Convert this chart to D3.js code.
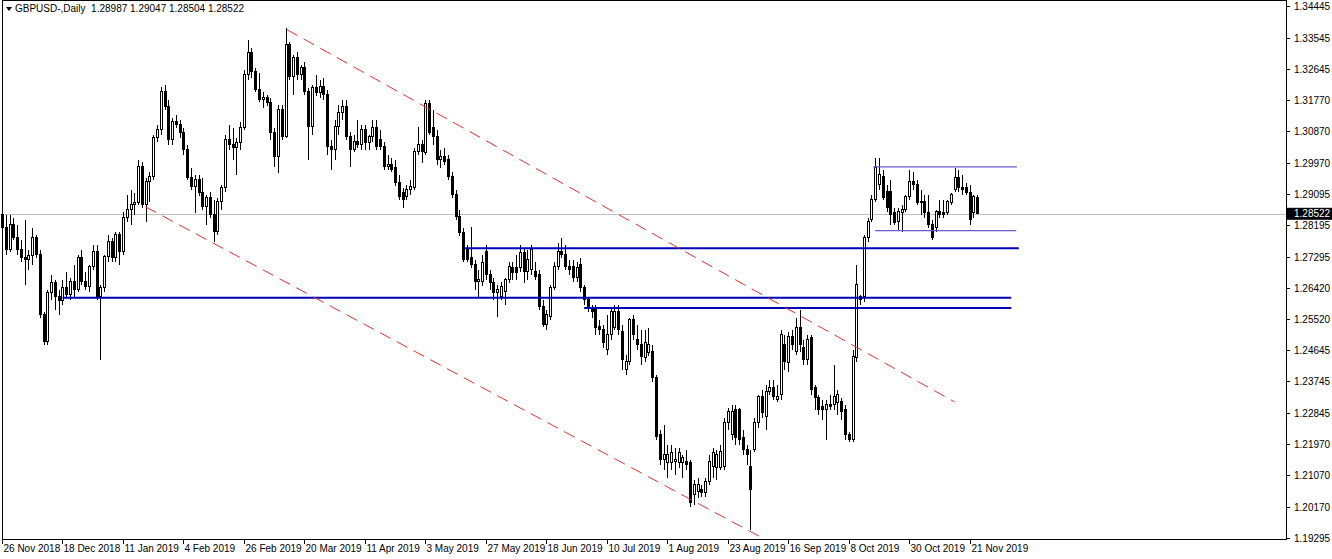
<!DOCTYPE html>
<html><head><meta charset="utf-8">
<script src="https://cdnjs.cloudflare.com/ajax/libs/d3/7.8.5/d3.min.js"></script>
<style>html,body{margin:0;padding:0;background:#fff;overflow:hidden}</style>
</head><body>
<svg id="c" width="1332" height="559"></svg>
<script>
// Daily candles [open, high, low, close], first bar = 26 Nov 2018
const candles = [
[1.2849,1.2878,1.2792,1.2812],[1.2812,1.2849,1.2735,1.2750],[1.2750,1.2849,1.2744,1.2821],[1.2821,1.2841,1.2778,1.2784],
[1.2784,1.2821,1.2735,1.2750],[1.2750,1.2778,1.2715,1.2727],[1.2727,1.2835,1.2650,1.2721],[1.2721,1.2750,1.2693,1.2732],
[1.2732,1.2812,1.2707,1.2784],[1.2784,1.2792,1.2727,1.2735],[1.2735,1.2750,1.2556,1.2564],[1.2564,1.2573,1.2479,1.2487],
[1.2487,1.2636,1.2479,1.2627],[1.2627,1.2678,1.2607,1.2655],[1.2655,1.2664,1.2579,1.2616],[1.2616,1.2636,1.2564,1.2604],
[1.2604,1.2664,1.2593,1.2641],[1.2641,1.2687,1.2613,1.2621],[1.2621,1.2670,1.2607,1.2658],[1.2658,1.2707,1.2613,1.2636],
[1.2636,1.2735,1.2630,1.2727],[1.2727,1.2750,1.2650,1.2658],[1.2658,1.2687,1.2636,1.2644],[1.2644,1.2707,1.2630,1.2701],
[1.2701,1.2764,1.2693,1.2744],[1.2744,1.2764,1.2607,1.2616],[1.2616,1.2650,1.2436,1.2641],[1.2641,1.2735,1.2630,1.2730],
[1.2730,1.2792,1.2715,1.2772],[1.2772,1.2784,1.2715,1.2727],[1.2727,1.2801,1.2715,1.2792],[1.2792,1.2801,1.2707,1.2744],
[1.2744,1.2858,1.2735,1.2841],[1.2841,1.2906,1.2829,1.2864],
[1.2864,1.2921,1.2821,1.2878],[1.2878,1.2912,1.2849,1.2884],[1.2884,1.3006,1.2878,1.2986],[1.2986,1.3000,1.2869,1.2878],
[1.2878,1.2955,1.2829,1.2943],[1.2943,1.2972,1.2886,1.2958],[1.2958,1.3077,1.2949,1.3069],[1.3069,1.3106,1.3057,1.3092],
[1.3092,1.3214,1.3077,1.3200],[1.3200,1.3220,1.3149,1.3157],[1.3157,1.3177,1.3049,1.3063],[1.3063,1.3126,1.3049,1.3114],
[1.3114,1.3134,1.3097,1.3106],[1.3106,1.3120,1.3069,1.3083],[1.3083,1.3097,1.3020,1.3035],[1.3035,1.3049,1.2949,1.2955],
[1.2955,1.2983,1.2921,1.2929],[1.2929,1.2963,1.2855,1.2949],[1.2949,1.2963,1.2903,1.2912],[1.2912,1.2955,1.2864,1.2872],
[1.2872,1.2906,1.2821,1.2898],[1.2898,1.2915,1.2841,1.2849],[1.2849,1.2892,1.2772,1.2801],[1.2801,1.2898,1.2792,1.2886],
[1.2886,1.2935,1.2864,1.2926],[1.2926,1.3077,1.2915,1.3063],[1.3063,1.3106,1.3035,1.3049],[1.3049,1.3097,1.3006,1.3040],
[1.3040,1.3069,1.2963,1.3054],[1.3054,1.3114,1.3035,1.3097],[1.3097,1.3263,1.3092,1.3248],[1.3248,1.3348,1.3234,1.3311],
[1.3311,1.3325,1.3240,1.3257],
[1.3257,1.3268,1.3200,1.3206],[1.3206,1.3254,1.3171,1.3177],[1.3177,1.3200,1.3154,1.3183],[1.3183,1.3191,1.3160,1.3169],
[1.3169,1.3183,1.3063,1.3083],[1.3083,1.3097,1.2986,1.3015],[1.3015,1.3163,1.2969,1.3149],[1.3149,1.3163,1.3063,1.3072],
[1.3072,1.3382,1.3069,1.3334],[1.3334,1.3342,1.3234,1.3243],[1.3243,1.3305,1.3191,1.3297],[1.3297,1.3314,1.3234,1.3248],
[1.3248,1.3277,1.3234,1.3268],[1.3268,1.3285,1.3191,1.3200],[1.3200,1.3211,1.3006,1.3100],[1.3100,1.3220,1.3077,1.3211],
[1.3211,1.3248,1.3188,1.3197],[1.3197,1.3234,1.3183,1.3214],[1.3214,1.3240,1.3177,1.3191],[1.3191,1.3206,1.3020,1.3043],
[1.3043,1.3063,1.2978,1.3035],[1.3035,1.3120,1.3006,1.3100],[1.3100,1.3163,1.3077,1.3140],[1.3140,1.3177,1.3120,1.3157],
[1.3157,1.3177,1.3063,1.3072],[1.3072,1.3086,1.2986,1.3035],[1.3035,1.3077,1.3029,1.3057],[1.3057,1.3120,1.3040,1.3049],
[1.3049,1.3106,1.3035,1.3092],[1.3092,1.3106,1.3035,1.3054],[1.3054,1.3077,1.3035,1.3072],[1.3072,1.3120,1.3057,1.3097],
[1.3097,1.3120,1.3035,1.3043],
[1.3063,1.3092,1.3035,1.3043],[1.3043,1.3057,1.2978,1.2986],[1.2986,1.3020,1.2978,1.2992],[1.2992,1.3012,1.2972,1.2978],
[1.2983,1.3006,1.2932,1.2940],[1.2940,1.2963,1.2892,1.2901],[1.2912,1.2926,1.2869,1.2892],[1.2901,1.2935,1.2892,1.2921],
[1.2921,1.2949,1.2906,1.2929],[1.2926,1.3040,1.2921,1.3029],[1.3029,1.3100,1.3020,1.3049],[1.3049,1.3063,1.2998,1.3029],
[1.3026,1.3177,1.3020,1.3168],[1.3168,1.3177,1.3077,1.3083],[1.3097,1.3149,1.3049,1.3072],[1.3072,1.3092,1.2992,1.3006],
[1.3006,1.3035,1.2983,1.3015],[1.3015,1.3040,1.2992,1.3000],[1.3006,1.3020,1.2949,1.2958],[1.2958,1.2972,1.2898,1.2906],
[1.2906,1.2921,1.2835,1.2844],[1.2844,1.2864,1.2789,1.2798],[1.2798,1.2812,1.2715,1.2721],[1.2750,1.2764,1.2715,1.2721],
[1.2727,1.2815,1.2698,1.2707],[1.2707,1.2721,1.2636,1.2658],[1.2658,1.2693,1.2613,1.2664],[1.2658,1.2735,1.2647,1.2712],
[1.2744,1.2764,1.2664,1.2678],[1.2678,1.2693,1.2636,1.2655],[1.2655,1.2670,1.2607,1.2627],[1.2627,1.2650,1.2559,1.2636],
[1.2616,1.2658,1.2607,1.2644],
[1.2630,1.2670,1.2593,1.2664],[1.2664,1.2715,1.2655,1.2701],[1.2698,1.2715,1.2664,1.2684],[1.2698,1.2735,1.2664,1.2684],
[1.2698,1.2764,1.2687,1.2741],[1.2741,1.2755,1.2655,1.2687],[1.2687,1.2750,1.2664,1.2721],[1.2693,1.2764,1.2678,1.2750],
[1.2687,1.2715,1.2664,1.2673],[1.2678,1.2693,1.2579,1.2587],[1.2587,1.2607,1.2530,1.2536],[1.2536,1.2579,1.2522,1.2564],
[1.2559,1.2650,1.2550,1.2641],[1.2641,1.2715,1.2636,1.2701],[1.2701,1.2769,1.2693,1.2744],[1.2744,1.2784,1.2727,1.2735],
[1.2735,1.2764,1.2693,1.2701],[1.2701,1.2721,1.2678,1.2693],[1.2701,1.2721,1.2658,1.2670],[1.2670,1.2715,1.2658,1.2698],
[1.2707,1.2727,1.2630,1.2641],[1.2641,1.2650,1.2593,1.2607],[1.2607,1.2613,1.2573,1.2584],[1.2584,1.2593,1.2556,1.2573],
[1.2579,1.2593,1.2507,1.2527],[1.2530,1.2550,1.2507,1.2522],[1.2522,1.2536,1.2470,1.2485],[1.2465,1.2564,1.2450,1.2507],
[1.2507,1.2584,1.2493,1.2573],[1.2527,1.2593,1.2522,1.2573],[1.2573,1.2593,1.2507,1.2522],[1.2516,1.2536,1.2408,1.2436],
[1.2408,1.2450,1.2393,1.2430],
[1.2430,1.2556,1.2422,1.2550],[1.2550,1.2564,1.2493,1.2507],[1.2493,1.2536,1.2465,1.2479],[1.2479,1.2522,1.2422,1.2445],
[1.2442,1.2522,1.2430,1.2485],[1.2456,1.2527,1.2447,1.2479],[1.2459,1.2479,1.2373,1.2385],[1.2385,1.2393,1.2208,1.2217],
[1.2222,1.2237,1.2137,1.2151],[1.2151,1.2251,1.2123,1.2165],[1.2142,1.2194,1.2100,1.2165],[1.2142,1.2194,1.2123,1.2171],
[1.2145,1.2185,1.2108,1.2151],[1.2142,1.2185,1.2128,1.2171],[1.2142,1.2165,1.2100,1.2157],[1.2145,1.2180,1.2123,1.2137],
[1.2142,1.2151,1.2017,1.2028],[1.2051,1.2094,1.2023,1.2080],[1.2060,1.2100,1.2043,1.2080],[1.2066,1.2080,1.2046,1.2057],
[1.2057,1.2100,1.2046,1.2088],[1.2088,1.2165,1.2080,1.2145],[1.2131,1.2185,1.2100,1.2171],[1.2128,1.2180,1.2094,1.2165],
[1.2128,1.2194,1.2123,1.2174],[1.2131,1.2271,1.2123,1.2256],[1.2256,1.2299,1.2237,1.2288],[1.2222,1.2308,1.2208,1.2288],
[1.2294,1.2308,1.2194,1.2214],[1.2294,1.2299,1.2194,1.2208],[1.2214,1.2237,1.2165,1.2180],[1.2180,1.2194,1.2137,1.2165],
[1.2131,1.2180,1.1952,1.2066],
[1.2180,1.2271,1.2174,1.2256],[1.2256,1.2336,1.2242,1.2331],[1.2331,1.2351,1.2271,1.2285],[1.2274,1.2365,1.2237,1.2345],
[1.2345,1.2379,1.2336,1.2356],[1.2356,1.2379,1.2322,1.2331],[1.2322,1.2365,1.2316,1.2331],[1.2336,1.2522,1.2322,1.2507],
[1.2479,1.2507,1.2408,1.2430],[1.2427,1.2516,1.2402,1.2502],[1.2502,1.2522,1.2465,1.2479],[1.2459,1.2556,1.2450,1.2527],
[1.2527,1.2579,1.2459,1.2479],[1.2470,1.2493,1.2422,1.2436],[1.2436,1.2507,1.2422,1.2493],[1.2499,1.2507,1.2336,1.2351],
[1.2356,1.2365,1.2294,1.2328],[1.2328,1.2336,1.2279,1.2294],[1.2302,1.2322,1.2265,1.2294],[1.2294,1.2322,1.2208,1.2308],
[1.2308,1.2336,1.2294,1.2302],[1.2308,1.2422,1.2294,1.2331],[1.2313,1.2351,1.2279,1.2336],[1.2316,1.2328,1.2265,1.2288],
[1.2294,1.2308,1.2208,1.2222],[1.2222,1.2231,1.2202,1.2208],[1.2208,1.2465,1.2202,1.2445],[1.2442,1.2707,1.2430,1.2650],
[1.2616,1.2621,1.2593,1.2607],[1.2616,1.2792,1.2601,1.2784],[1.2784,1.2841,1.2772,1.2829],[1.2835,1.2906,1.2829,1.2892],
[1.2892,1.3012,1.2886,1.2983],
[1.2935,1.3012,1.2921,1.2963],[1.2958,1.2978,1.2892,1.2898],[1.2915,1.2935,1.2858,1.2869],[1.2915,1.2949,1.2821,1.2849],
[1.2855,1.2869,1.2821,1.2826],[1.2829,1.2869,1.2807,1.2858],[1.2855,1.2878,1.2801,1.2864],[1.2864,1.2906,1.2858,1.2901],
[1.2901,1.2978,1.2892,1.2943],[1.2943,1.2972,1.2921,1.2935],[1.2935,1.2949,1.2878,1.2884],[1.2886,1.2921,1.2849,1.2884],
[1.2886,1.2906,1.2841,1.2855],[1.2855,1.2906,1.2812,1.2821],[1.2821,1.2835,1.2778,1.2784],[1.2812,1.2864,1.2801,1.2858],
[1.2858,1.2892,1.2841,1.2849],[1.2855,1.2892,1.2841,1.2849],[1.2855,1.2892,1.2849,1.2886],[1.2884,1.2912,1.2878,1.2906],
[1.2921,1.2983,1.2915,1.2955],[1.2955,1.2978,1.2915,1.2926],[1.2926,1.2963,1.2906,1.2921],[1.2926,1.2941,1.2906,1.2912],
[1.2912,1.2935,1.2821,1.2835],[1.2855,1.2906,1.2841,1.2901],[1.28987,1.29047,1.28504,1.28522]
];
const priceTicks = [1.34445,1.33545,1.32645,1.31770,1.30870,1.29970,1.29095,1.28195,1.27295,1.26420,1.25520,1.24645,1.23745,1.22845,1.21970,1.21070,1.20170,1.19295];
const dateLabels = ["26 Nov 2018","18 Dec 2018","11 Jan 2019","4 Feb 2019","26 Feb 2019","20 Mar 2019","11 Apr 2019","3 May 2019","27 May 2019","18 Jun 2019","10 Jul 2019","1 Aug 2019","23 Aug 2019","16 Sep 2019","8 Oct 2019","30 Oct 2019","21 Nov 2019"];
const barsPerLabel = 16;
// trend channel lines: [barIndex, price] endpoints
const channelLines = [[[38,1.2872],[200.5,1.1932]],[[75.4,1.3377],[252,1.2316]]];
// horizontal levels: [startBar, endBar, price]
const blueLevels = [[16,267,1.2613],[122.5,269,1.2754],[154,267,1.2584]];
const rangeLevels = [[230.5,268.5,1.2986],[231,268.3,1.2804]];
const lastPrice = 1.28522;
const title = "GBPUSD-,Daily  1.28987 1.29047 1.28504 1.28522";

const svg = d3.select("#c");
const plotRight = 1286, plotBottom = 539;
const x = d3.scaleLinear().domain([0,1]).range([2,5.78]);
const y = d3.scaleLinear().domain([1.19295,1.34445]).range([537.5,6]);
const font = "'Liberation Sans', Arial, sans-serif";

svg.append("rect").attr("x",0).attr("y",0).attr("width",1332).attr("height",559).attr("fill","#fff");

// current price line
svg.append("line").attr("x1",0).attr("x2",plotRight).attr("y1",Math.round(y(lastPrice))+0.5).attr("y2",Math.round(y(lastPrice))+0.5).attr("stroke","#c0c0c0");

// candles
const g = svg.append("g").attr("shape-rendering","crispEdges");
candles.forEach((d,i)=>{
  const cx = Math.round(x(i));
  const [o,h,l,c] = d;
  g.append("line").attr("x1",cx+0.5).attr("x2",cx+0.5).attr("y1",y(h)).attr("y2",y(l)).attr("stroke","#000");
  const top = y(Math.max(o,c)), bot = y(Math.min(o,c));
  g.append("rect").attr("x",cx-1+0.5).attr("y",top).attr("width",2).attr("height",Math.max(bot-top,0.5))
    .attr("fill",c>=o?"#fff":"#000").attr("stroke","#000").attr("stroke-width",1);
});

// levels
blueLevels.forEach(([a,b,p])=>{
  svg.append("line").attr("x1",x(a)).attr("x2",x(b)).attr("y1",y(p)).attr("y2",y(p)).attr("stroke","#0000b4").attr("stroke-width",2);
});
rangeLevels.forEach(([a,b,p])=>{
  svg.append("line").attr("x1",x(a)).attr("x2",x(b)).attr("y1",y(p)).attr("y2",y(p)).attr("stroke","#6a5acd").attr("stroke-width",1.3);
});
channelLines.forEach(([p1,p2])=>{
  svg.append("line").attr("x1",x(p1[0])).attr("y1",y(p1[1])).attr("x2",x(p2[0])).attr("y2",Math.min(y(p2[1]),plotBottom))
    .attr("stroke","#e03030").attr("stroke-width",1).attr("stroke-dasharray","12,7");
});

// frame
svg.append("rect").attr("x",2.5).attr("y",0.5).attr("width",plotRight-2).attr("height",plotBottom).attr("fill","none").attr("stroke","#000").attr("shape-rendering","crispEdges");

// price axis
priceTicks.forEach(p=>{
  const yy = Math.round(y(p))+0.5;
  svg.append("line").attr("x1",plotRight).attr("x2",plotRight+4).attr("y1",yy).attr("y2",yy).attr("stroke","#000").attr("shape-rendering","crispEdges");
  svg.append("text").attr("x",plotRight+8).attr("y",yy+3.5).attr("font-family",font).attr("font-size",10).attr("fill","#000").text(p.toFixed(5));
});
const ly = y(lastPrice);
svg.append("rect").attr("x",plotRight+1).attr("y",ly-6).attr("width",45).attr("height",12).attr("fill","#000");
svg.append("text").attr("x",plotRight+8).attr("y",ly+3.5).attr("font-family",font).attr("font-size",10).attr("fill","#fff").text(lastPrice.toFixed(5));

// date axis
dateLabels.forEach((t,k)=>{
  const xx = Math.round(x(k*barsPerLabel))+0.5;
  svg.append("line").attr("x1",xx).attr("x2",xx).attr("y1",plotBottom).attr("y2",plotBottom+5).attr("stroke","#000").attr("shape-rendering","crispEdges");
  svg.append("text").attr("x",xx+1).attr("y",plotBottom+13).attr("font-family",font).attr("font-size",10).attr("fill","#000").text(t);
});

// title
svg.append("path").attr("d","M6,7 L12,7 L9,11 Z").attr("fill","#000");
svg.append("text").attr("x",15).attr("y",12).attr("font-family",font).attr("font-size",10).attr("fill","#000").attr("xml:space","preserve").text(title);
</script>
</body></html>
